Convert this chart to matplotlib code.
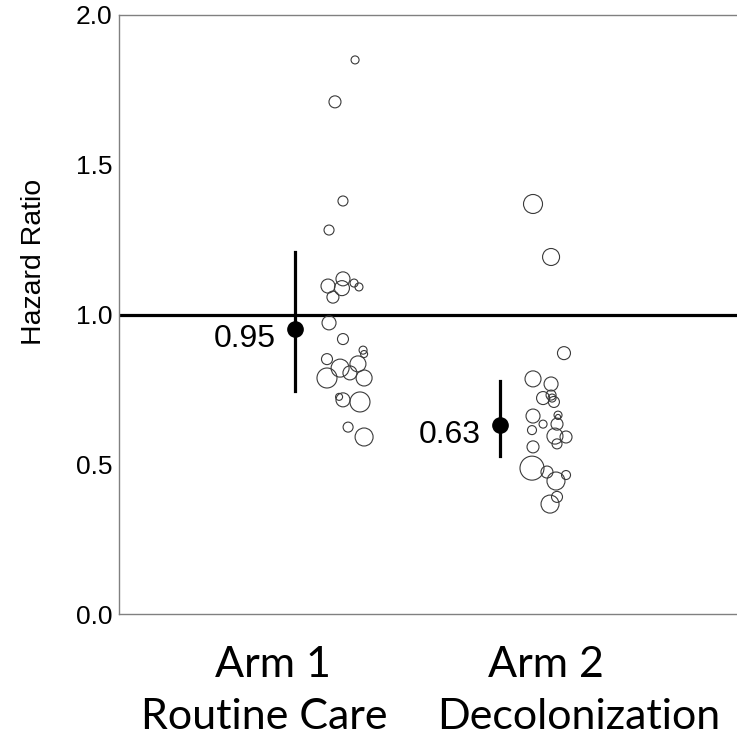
import matplotlib
matplotlib.use("Agg")
import matplotlib.pyplot as plt
import numpy as np

# pooled estimates per arm
arm_pos = [1, 2]
arm_hr = [0.95, 0.63]
arm_ci_low = [0.745, 0.528]
arm_ci_high = [1.209, 0.778]

# hospital-level estimates (x jitter from arm centre, hazard ratio, bubble radius)
arm1_jitter = [0.293, 0.195, 0.234, 0.166, 0.161, 0.234, 0.229, 0.288, 0.312,
               0.185, 0.166, 0.234, 0.332, 0.337, 0.156, 0.220, 0.156, 0.268,
               0.307, 0.337, 0.215, 0.234, 0.317, 0.259, 0.337]
arm1_hr = [1.850, 1.710, 1.379, 1.282, 1.095, 1.119, 1.088, 1.105, 1.092,
           1.058, 0.972, 0.918, 0.881, 0.868, 0.851, 0.821, 0.788, 0.805,
           0.835, 0.788, 0.725, 0.715, 0.708, 0.624, 0.591]
arm1_radius = [4, 6, 5, 5, 7, 7, 7.5, 4, 4, 6, 7, 5.5, 4, 3.5, 5.5, 9, 10, 7,
               8, 8, 3.5, 7, 10, 5, 9]

arm2_jitter = [0.161, 0.249, 0.312, 0.161, 0.249, 0.210, 0.249, 0.254, 0.263,
               0.161, 0.210, 0.283, 0.283, 0.278, 0.268, 0.322, 0.156, 0.278,
               0.161, 0.156, 0.229, 0.273, 0.322, 0.278, 0.244]
arm2_hr = [1.369, 1.192, 0.871, 0.785, 0.768, 0.721, 0.731, 0.721, 0.708,
           0.661, 0.634, 0.664, 0.658, 0.634, 0.594, 0.591, 0.614, 0.568,
           0.558, 0.487, 0.474, 0.444, 0.464, 0.391, 0.367]
arm2_radius = [9.5, 8.5, 6.5, 8, 7, 6.5, 5, 4, 5.5, 7, 4, 4, 2.5, 6, 8, 6, 4.5,
               5, 6, 12, 6, 9, 4.5, 5.5, 9]

arm_line1 = ["Arm 1", "Arm 2"]
arm_line2 = ["Routine Care", "Decolonization"]

dpi = 100
fig = plt.figure(figsize=(7.37, 7.37), dpi=dpi)
ax = fig.add_axes([119 / 737, 1 - 614 / 737, 618 / 737, 599 / 737])


def radius_to_s(r):
    return (2 * np.asarray(r) * 72 / dpi) ** 2


for pos, jit, hr, rad in [(arm_pos[0], arm1_jitter, arm1_hr, arm1_radius),
                          (arm_pos[1], arm2_jitter, arm2_hr, arm2_radius)]:
    ax.scatter(pos + np.asarray(jit), hr, s=radius_to_s(rad), facecolors="none",
               edgecolors="#3a3a3a", linewidths=0.8, zorder=3)

ax.axhline(1.0, color="black", lw=2.3, zorder=2)

for pos, hr, lo, hi in zip(arm_pos, arm_hr, arm_ci_low, arm_ci_high):
    ax.plot([pos, pos], [lo, hi], color="black", lw=2.3, zorder=4)
    ax.plot(pos, hr, "o", color="black", ms=11, zorder=5)
    ax.annotate(f"{hr:.2f}", (pos, hr), xytext=(-14, -7), textcoords="offset points",
                ha="right", va="center", fontsize=23, family="Liberation Sans")

ax.set_xlim(0.1415, 3.156)
ax.set_ylim(0, 2.0)
ax.set_yticks([0.0, 0.5, 1.0, 1.5, 2.0])
ax.set_yticklabels(["0.0", "0.5", "1.0", "1.5", "2.0"], family="Liberation Sans",
                   fontsize=19)
ax.set_xticks([])
ax.tick_params(axis="y", length=0, pad=5)
for side in ["left", "top", "bottom"]:
    ax.spines[side].set_color("#808080")
    ax.spines[side].set_linewidth(1.0)
ax.spines["right"].set_visible(False)

fig.text(34 / 737, 1 - 262 / 737, "Hazard Ratio", rotation=90, ha="center",
         va="center", fontsize=20.5, family="Liberation Sans")

# two-line arm captions below the axis
line1_x = [273, 546]
line2_x = [264, 579]
for i in range(2):
    fig.text(line1_x[i] / 737, 1 - 665 / 737, arm_line1[i], ha="center", va="center",
             fontsize=31, family="Lato")
    fig.text(line2_x[i] / 737, 1 - 717 / 737, arm_line2[i], ha="center", va="center",
             fontsize=31, family="Lato")

fig.savefig("out.png", dpi=dpi)
